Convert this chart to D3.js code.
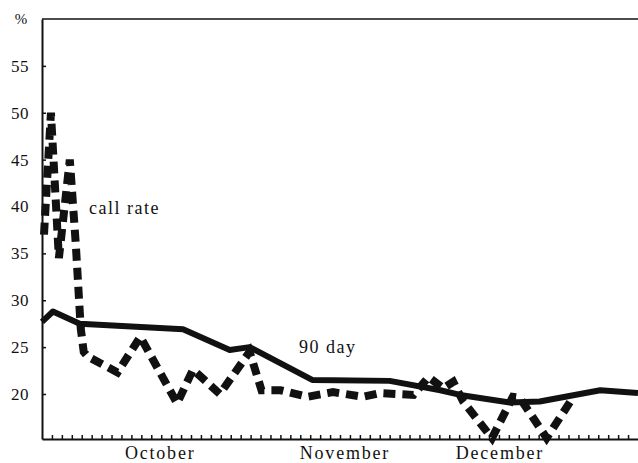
<!DOCTYPE html>
<html lang="en">
	<head>
		<meta charset="utf-8">
		<title>call rate vs 90 day</title>
		<script src="https://d3js.org/d3.v7.min.js"></script>
		<style>
			body { margin: 0; background: #fff; }
			svg text { font-family: "Liberation Serif", "DejaVu Serif", serif; fill: #111; }
		</style>
	</head>
	<body>
		<script type="text/javascript">
			// window size setup
			var w = 638
			var h = 463
			var padLeft = 42, padRight = 638, padTop = 19, padBottom = 439

			// data (x in tick units along the bottom axis)
			var callDays  = [0.2, 0.9, 1.7, 2.8, 3.4, 3.9, 4.2, 4.6, 7.6, 9.9, 13.6, 15.2, 17.9, 20.9, 22.1, 24.0, 26.7, 29.3, 32.3, 34.0, 37.4, 38.9, 40.4, 41.4, 42.4, 45.3, 47.4, 48.1, 50.8, 53.5]
			var callRate  = [37, 50, 34.5, 45, 36, 27, 24.5, 24, 22.3, 26.1, 19, 22.6, 20, 24.5, 20.4, 20.4, 19.7, 20.2, 19.7, 20.1, 19.9, 21.8, 20.6, 21.3, 19.2, 15.3, 19.7, 19.6, 15.3, 19.7]
			var dayDays   = [0, 1.1, 3.8, 14.2, 18.9, 20.9, 27.2, 35.0, 40.1, 42.1, 47.1, 50.1, 56.2, 60]
			var day90     = [27.7, 28.8, 27.5, 26.9, 24.7, 25.0, 21.5, 21.4, 20.4, 19.9, 19.1, 19.2, 20.4, 20.1]
			var yTicks    = [20, 25, 30, 35, 40, 45, 50, 55]
			var months    = ["October", "November", "December"]
			var monthPos  = [11.9, 30.5, 46.1]

			// scales
			var xScale = d3.scaleLinear().domain([0, 60]).range([padLeft, padRight])
			var yScale = d3.scaleLinear().domain([15.2, 60]).range([padBottom, padTop])

			var svg = d3.select("body")
						.append("svg")
						.attr("width", w)
						.attr("height", h)

			// top border
			svg.append("line")
				.attr("x1", padLeft).attr("x2", padRight)
				.attr("y1", yScale(60)).attr("y2", yScale(60))
				.attr("stroke", "#111").attr("stroke-width", 1.6)

			// y axis
			var yAxis = d3.axisLeft(yScale)
							.tickValues(yTicks)
							.tickSizeInner(-4)
							.tickSizeOuter(0)
							.tickPadding(13)
			var gy = svg.append("g")
				.attr("transform", "translate(" + padLeft + ",0)")
				.call(yAxis)
				.attr("font-family", null)
				.attr("font-size", null)
			gy.select(".domain").attr("stroke", "#111").attr("stroke-width", 2)
			gy.selectAll(".tick line").attr("stroke", "#111").attr("stroke-width", 1.5)
			gy.selectAll("text")
				.attr("font-size", 17)
				.attr("letter-spacing", 0.5)

			svg.append("text")
				.attr("x", 21).attr("y", yScale(60) + 5)
				.attr("text-anchor", "middle")
				.attr("font-size", 15)
				.text("%")

			// x axis
			var xAxis = d3.axisBottom(xScale)
							.tickValues(d3.range(1, 60))
							.tickSizeInner(-4)
							.tickSizeOuter(0)
							.tickFormat("")
			var gx = svg.append("g")
				.attr("transform", "translate(0," + padBottom + ")")
				.call(xAxis)
			gx.select(".domain").attr("stroke", "#111").attr("stroke-width", 2)
			gx.selectAll(".tick line").attr("stroke", "#111").attr("stroke-width", 1.5)

			svg.selectAll(".month")
				.data(months)
				.enter()
				.append("text")
				.attr("class", "month")
				.attr("x", function(d, i){ return xScale(monthPos[i]) })
				.attr("y", 459)
				.attr("text-anchor", "middle")
				.attr("font-size", 18)
				.attr("letter-spacing", 1.8)
				.text(function(d){ return d })

			var line = d3.line()
						.x(function(d){ return xScale(d[0]) })
						.y(function(d){ return yScale(d[1]) })

			// 90 day solid
			svg.append("path")
				.datum(d3.zip(dayDays, day90))
				.attr("d", line)
				.attr("fill", "none")
				.attr("stroke", "#111")
				.attr("stroke-width", 6)
				.attr("stroke-linejoin", "round")

			// call rate dashed
			svg.append("path")
				.datum(d3.zip(callDays, callRate))
				.attr("d", line)
				.attr("fill", "none")
				.attr("stroke", "#111")
				.attr("stroke-width", 8)
				.attr("stroke-dasharray", "12,7")

			// series labels
			svg.append("text")
				.attr("x", 89).attr("y", 214)
				.attr("font-size", 18)
				.attr("letter-spacing", 1.5)
				.text("call rate")

			svg.append("text")
				.attr("x", 299).attr("y", 353)
				.attr("font-size", 18)
				.attr("letter-spacing", 1.5)
				.text("90 day")
		</script>
	</body>
</html>
